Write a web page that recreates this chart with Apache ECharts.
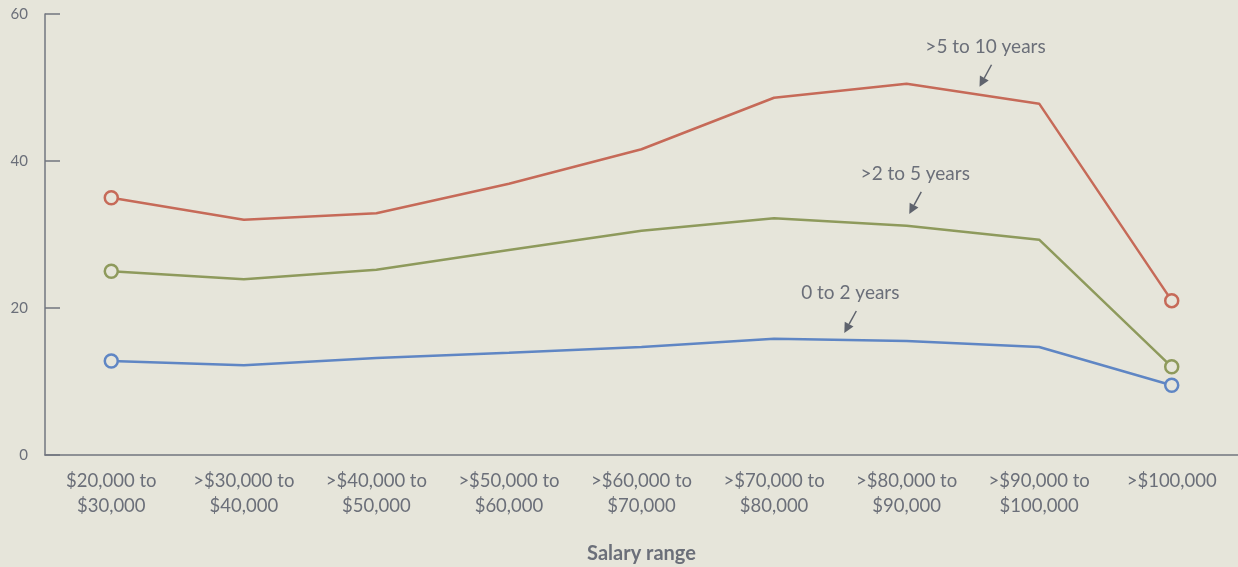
<!DOCTYPE html>
<html>
<head>
<meta charset="utf-8">
<script src="https://cdn.jsdelivr.net/npm/echarts@6/dist/echarts.min.js"></script>
<style>
  html, body { margin: 0; padding: 0; background: #e6e5da; }
  #main { width: 1238px; height: 567px; }
</style>
</head>
<body>
<div id="main"></div>
<script>
// salary bands along the x axis
const categories = [
  '$20,000 to\n$30,000', '>$30,000 to\n$40,000', '>$40,000 to\n$50,000',
  '>$50,000 to\n$60,000', '>$60,000 to\n$70,000', '>$70,000 to\n$80,000',
  '>$80,000 to\n$90,000', '>$90,000 to\n$100,000', '>$100,000'
]
const yTicks = [0, 20, 40, 60]

// values
const fiveToTen = [35, 32, 32.9, 36.9, 41.6, 48.6, 50.5, 47.8, 21]
const twoToFive = [25, 23.9, 25.2, 27.9, 30.5, 32.2, 31.2, 29.3, 12]
const zeroToTwo = [12.8, 12.2, 13.2, 13.9, 14.7, 15.8, 15.5, 14.7, 9.5]

// annotation anchors: [category position, value] at the arrow tip
const notes = [
  { text: '>5 to 10 years', at: [6.55, 50.1] },
  { text: '>2 to 5 years', at: [6.02, 32.8] },
  { text: '0 to 2 years', at: [5.53, 16.6] }
]

const textColor = '#6b6f79'
const font = 'Lato, "Open Sans", sans-serif'

function endMarkers (arr) {
  return arr.map((v, i) => ({
    value: v,
    symbol: (i === 0 || i === arr.length - 1) ? 'circle' : 'none'
  }))
}

function makeSeries (name, data, color) {
  return {
    name: name,
    type: 'line',
    data: endMarkers(data),
    symbolSize: 13,
    lineStyle: { color: color, width: 2.5 },
    itemStyle: { color: '#e6e5da', borderColor: color, borderWidth: 2.5 },
    emphasis: { disabled: true },
    z: 3
  }
}

const chart = echarts.init(document.getElementById('main'))
chart.setOption({
  backgroundColor: '#e6e5da',
  animation: false,
  grid: { left: 45, right: 0, top: 14, bottom: 112, outerBoundsMode: 'none', containLabel: false },
  xAxis: {
    type: 'category',
    data: categories,
    boundaryGap: true,
    name: 'Salary range',
    nameLocation: 'middle',
    nameGap: 89,
    nameTextStyle: { color: textColor, fontSize: 20, fontWeight: 'bold', fontFamily: font },
    axisLine: { lineStyle: { color: '#72767f', width: 1.5 } },
    axisTick: { show: false },
    axisLabel: {
      color: textColor, fontSize: 18.5, fontFamily: font,
      lineHeight: 25, margin: 14, interval: 0
    }
  },
  yAxis: {
    type: 'value',
    min: yTicks[0],
    max: yTicks[yTicks.length - 1],
    interval: yTicks[1] - yTicks[0],
    splitLine: { show: false },
    axisLine: { show: true, lineStyle: { color: '#72767f', width: 1.5 } },
    axisTick: { show: true, inside: true, length: 15, lineStyle: { color: '#72767f', width: 1.5 } },
    axisLabel: { color: textColor, fontSize: 15, fontFamily: font, margin: 17 }
  },
  series: [
    makeSeries('>5 to 10 years', fiveToTen, '#c66a58'),
    makeSeries('>2 to 5 years', twoToFive, '#8e9a5c'),
    makeSeries('0 to 2 years', zeroToTwo, '#5f86c4')
  ]
})

// place the labels and arrows from data coordinates
function toPixel (pos, val) {
  const i = Math.floor(pos)
  const t = pos - i
  const a = chart.convertToPixel({ gridIndex: 0 }, [i, val])
  const b = chart.convertToPixel({ gridIndex: 0 }, [i + 1, val])
  return [a[0] + (b[0] - a[0]) * t, a[1]]
}

const graphics = []
notes.forEach(n => {
  const tip = toPixel(n.at[0], n.at[1])
  const tail = [tip[0] + 12, tip[1] - 22]
  const ang = Math.atan2(tip[1] - tail[1], tip[0] - tail[0])
  const hl = 10
  const hw = 5
  const base = [tip[0] - hl * Math.cos(ang), tip[1] - hl * Math.sin(ang)]
  const px = -Math.sin(ang) * hw
  const py = Math.cos(ang) * hw
  graphics.push({
    type: 'line',
    shape: { x1: tail[0], y1: tail[1], x2: base[0], y2: base[1] },
    style: { stroke: '#5f636d', lineWidth: 1.5 }
  })
  graphics.push({
    type: 'polygon',
    shape: { points: [tip, [base[0] + px, base[1] + py], [base[0] - px, base[1] - py]] },
    style: { fill: '#5f636d' }
  })
  graphics.push({
    type: 'text',
    x: tip[0] + 6,
    y: tip[1] - 40,
    style: {
      text: n.text, fill: textColor, fontSize: 19, fontFamily: font,
      align: 'center', verticalAlign: 'middle'
    }
  })
})
chart.setOption({ graphic: graphics })
</script>
</body>
</html>
